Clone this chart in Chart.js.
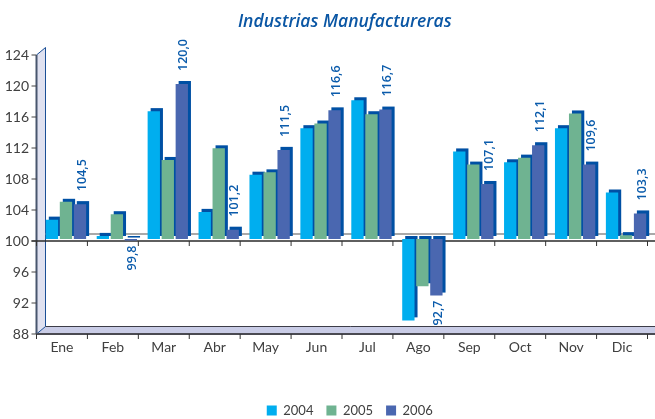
<!DOCTYPE html>
<html>
<head>
<meta charset="utf-8">
<title>Industrias Manufactureras</title>
<script src="https://cdn.jsdelivr.net/npm/chart.js@4"></script>
<style>
    html, body { margin: 0; padding: 0; background: #fff; }
    #wrap { width: 655px; height: 419px; }
</style>
</head>
<body>
<div id="wrap"><canvas id="chart"></canvas></div>
<script>
const months = ['Ene', 'Feb', 'Mar', 'Abr', 'May', 'Jun', 'Jul', 'Ago', 'Sep', 'Oct', 'Nov', 'Dic'];
const years = ['2004', '2005', '2006'];
const values2004 = [102.5, 100.4, 116.5, 103.5, 108.3, 114.3, 117.9, 89.5, 111.3, 109.9, 114.3, 106.0];
const values2005 = [104.8, 103.2, 110.2, 111.7, 108.6, 114.9, 116.1, 93.9, 109.6, 110.5, 116.2, 100.5];
const values2006 = [104.5, 99.8, 120.0, 101.2, 111.5, 116.6, 116.7, 92.7, 107.1, 112.1, 109.6, 103.3];
const yMin = 88;
const yMax = 124;
const yStep = 4;
const baseValue = 100;

const colors = ['#00aeef', '#6fb391', '#4a67b0'];
const depthColor = '#0050a4';

// The tick marks sit on the front of the fake 3D box, the bars a bit further in
const axisShiftX = -4;
const axisShiftY = 2;
const wallDepth = 9;

function drawLine(ctx, x1, y1, x2, y2, color, width) {
    ctx.strokeStyle = color;
    ctx.lineWidth = width;
    ctx.beginPath();
    ctx.moveTo(x1, y1);
    ctx.lineTo(x2, y2);
    ctx.stroke();
}

// Wall, floor, axis lines and the dark offset behind each bar
const boxPlugin = {
    id: 'box3d',
    afterLayout(chart) {
        // Title and legend are centred on the plot in the original, not on the page
        chart.titleBlock.left += 19;
        chart.titleBlock.right += 19;
        chart.legend.left += 24;
        chart.legend.right += 24;
        chart.legend.top += 8;
        chart.legend.bottom += 8;
    },
    beforeDatasetsDraw(chart) {
        const ctx = chart.ctx;
        const x = chart.scales.x;
        const y = chart.scales.y;
        const right = chart.width;
        const left = chart.chartArea.left + axisShiftX;
        const top = y.getPixelForValue(yMax) + axisShiftY;
        const bottom = y.getPixelForValue(yMin) + axisShiftY;
        const zero = y.getPixelForValue(baseValue) + axisShiftY;
        const inner = left + wallDepth;
        const rise = 7.5;

        ctx.save();

        // left wall
        ctx.fillStyle = '#dfe1f0';
        ctx.beginPath();
        ctx.moveTo(left, top);
        ctx.lineTo(inner, top - rise);
        ctx.lineTo(inner, bottom - rise);
        ctx.lineTo(left, bottom);
        ctx.closePath();
        ctx.fill();

        // floor
        ctx.fillStyle = '#c9cce6';
        ctx.beginPath();
        ctx.moveTo(left, bottom);
        ctx.lineTo(inner, bottom - rise);
        ctx.lineTo(right, bottom - rise);
        ctx.lineTo(right, bottom);
        ctx.closePath();
        ctx.fill();

        drawLine(ctx, inner, top - rise, inner, bottom - rise, '#1a4f96', 1);
        drawLine(ctx, left, top, inner, top - rise, '#1a4f96', 1);
        drawLine(ctx, left, bottom, inner, bottom - rise, '#1a4f96', 1);
        drawLine(ctx, inner, bottom - rise, right, bottom - rise, '#3c3c48', 1);
        drawLine(ctx, left, bottom, right, bottom, '#4a4a52', 2);
        drawLine(ctx, left, top, left, bottom, '#48566e', 2);

        // back line of the 100 level and the axis itself
        drawLine(ctx, inner, zero - rise + 0.5, right, zero - rise + 0.5, '#8c8c8c', 1.5);
        drawLine(ctx, left - 5, zero, right, zero, '#2a2a2a', 1.5);

        // y tick marks
        y.ticks.forEach(t => {
            const py = y.getPixelForValue(t.value) + axisShiftY;
            drawLine(ctx, left - 5, py, left, py, '#444', 1);
        });

        // x tick marks on the floor and on the 100 line
        const step = x.getPixelForTick(1) - x.getPixelForTick(0);
        for (let i = 0; i <= months.length; i++) {
            const px = x.getPixelForTick(0) - step / 2 + step * i + axisShiftX;
            drawLine(ctx, px, bottom, px, bottom + 5, '#333', 1);
            drawLine(ctx, px, zero, px, zero + 5, '#333', 1);
        }

        // dark depth of the bars, all of them under the fronts
        ctx.fillStyle = depthColor;
        chart.data.datasets.forEach((ds, i) => {
            chart.getDatasetMeta(i).data.forEach(bar => {
                const h = bar.base - bar.y;
                ctx.fillRect(bar.x - bar.width / 2 + 3, bar.y - 3, bar.width, h);
            });
        });

        ctx.restore();
    },
    afterDatasetsDraw(chart) {
        // Rotated value labels, only the last series has them
        const ctx = chart.ctx;
        const meta = chart.getDatasetMeta(2);
        ctx.save();
        ctx.fillStyle = '#0a5bab';
        ctx.font = '600 12.5px "Open Sans"';
        ctx.textBaseline = 'middle';
        meta.data.forEach((bar, i) => {
            const value = values2006[i];
            const text = value.toFixed(1).replace('.', ',');
            ctx.save();
            if (value >= baseValue) {
                ctx.translate(bar.x + 2, bar.y - 13);
                ctx.rotate(-Math.PI / 2);
                ctx.textAlign = 'left';
            } else {
                ctx.translate(bar.x + 2, bar.y + 5);
                ctx.rotate(-Math.PI / 2);
                ctx.textAlign = 'right';
            }
            ctx.fillText(text, 0, 0);
            ctx.restore();
        });
        ctx.restore();
    }
};

const seriesValues = [values2004, values2005, values2006];

new Chart(document.getElementById('chart'), {
    type: 'bar',
    plugins: [boxPlugin],
    data: {
        labels: months,
        datasets: years.map((year, i) => ({
            label: year,
            data: seriesValues[i],
            backgroundColor: colors[i],
            base: baseValue,
            categoryPercentage: 0.825,
            barPercentage: 0.88
        }))
    },
    options: {
        responsive: true,
        maintainAspectRatio: false,
        animation: false,
        layout: { padding: { left: 0, right: 3.5, top: 0, bottom: 0 } },
        scales: {
            x: {
                grid: { display: false, drawTicks: false },
                border: { display: false },
                ticks: {
                    color: '#404040',
                    font: { family: 'Lato', size: 14 },
                    padding: 7,
                    labelOffset: axisShiftX,
                    maxRotation: 0,
                    autoSkip: false
                },
                afterFit(scale) { scale.height = 51; }
            },
            y: {
                min: yMin,
                max: yMax,
                grid: { display: false, drawTicks: false },
                border: { display: false },
                ticks: {
                    stepSize: yStep,
                    color: '#404040',
                    font: { family: 'Lato', size: 14 },
                    padding: 11.5,
                    labelOffset: axisShiftY
                },
                afterFit(scale) { scale.width = 40.5; }
            }
        },
        plugins: {
            title: {
                display: true,
                text: 'Industrias Manufactureras',
                color: '#0a56a4',
                font: { family: 'Open Sans', size: 17.5, style: 'italic', weight: '600', lineHeight: 1.2 },
                padding: { top: 12, bottom: 20 }
            },
            legend: {
                display: true,
                position: 'bottom',
                labels: {
                    boxWidth: 10,
                    boxHeight: 10,
                    color: '#404040',
                    font: { family: 'Lato', size: 13 },
                    padding: 13
                }
            },
            tooltip: { enabled: false }
        }
    }
});
</script>
</body>
</html>
